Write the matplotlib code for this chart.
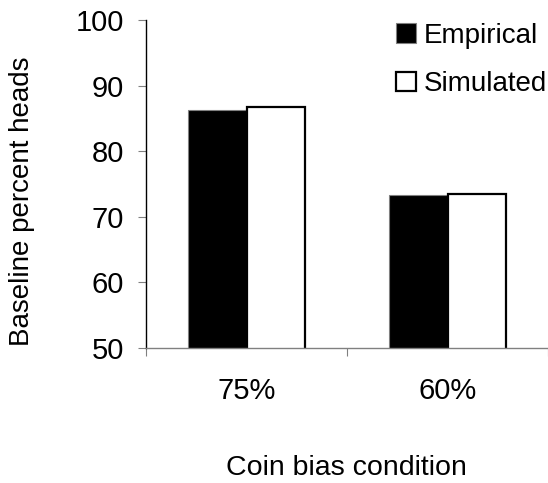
import numpy as np
import matplotlib.pyplot as plt

plt.rcParams['font.family'] = ['Liberation Sans', 'DejaVu Sans']

conditions = ['75%', '60%']
empirical = [86.3, 73.3]
simulated = [86.7, 73.4]

W, H = 548, 483
fig = plt.figure(figsize=(W / 100, H / 100), dpi=100)
ax = fig.add_axes([146 / W, 1 - 347.7 / H, (548 - 146) / W, (347.7 - 20) / H])

x = np.arange(len(conditions))
bw = 0.29
b1 = ax.bar(x - bw / 2, empirical, bw, color='black', edgecolor='#808080', linewidth=0.8, label='Empirical')
b2 = ax.bar(x + bw / 2, simulated, bw, color='white', edgecolor='black', linewidth=1.6, label='Simulated')

ax.set_ylim(50, 100)
ax.set_xlim(-0.5, 1.47)
ax.set_yticks([50, 60, 70, 80, 90, 100])
ax.set_xticks([-0.5, 0.5, 1.5])
ax.set_xticklabels([])
ax.set_xticks(x, minor=True)
ax.set_xticklabels(conditions, minor=True)

for s in ['top', 'right']:
    ax.spines[s].set_visible(False)
ax.spines['left'].set_color('black')
ax.spines['left'].set_linewidth(1.0)
ax.spines['bottom'].set_color('#808080')
ax.spines['bottom'].set_linewidth(1.0)

ax.tick_params(axis='y', length=6, color='#808080', labelsize=21, pad=10)
ax.tick_params(axis='x', which='major', length=6, color='#808080')
ax.tick_params(axis='x', which='minor', length=0, labelsize=21, pad=21)

fig.text(22 / W, 1 - 201 / H, 'Baseline percent heads', rotation=90,
         ha='center', va='center', fontsize=20)
fig.text(346 / W, 1 - 468 / H, 'Coin bias condition', ha='center', va='center', fontsize=20.5)

fig.legend(handles=[b1, b2], loc='upper left', bbox_to_anchor=(396 / W, 1 - 23 / H),
           frameon=False, fontsize=20, handlelength=0.72, handleheight=0.72,
           handletextpad=0.28, labelspacing=0.8, borderpad=0, borderaxespad=0)

fig.savefig('out.png', dpi=100)
